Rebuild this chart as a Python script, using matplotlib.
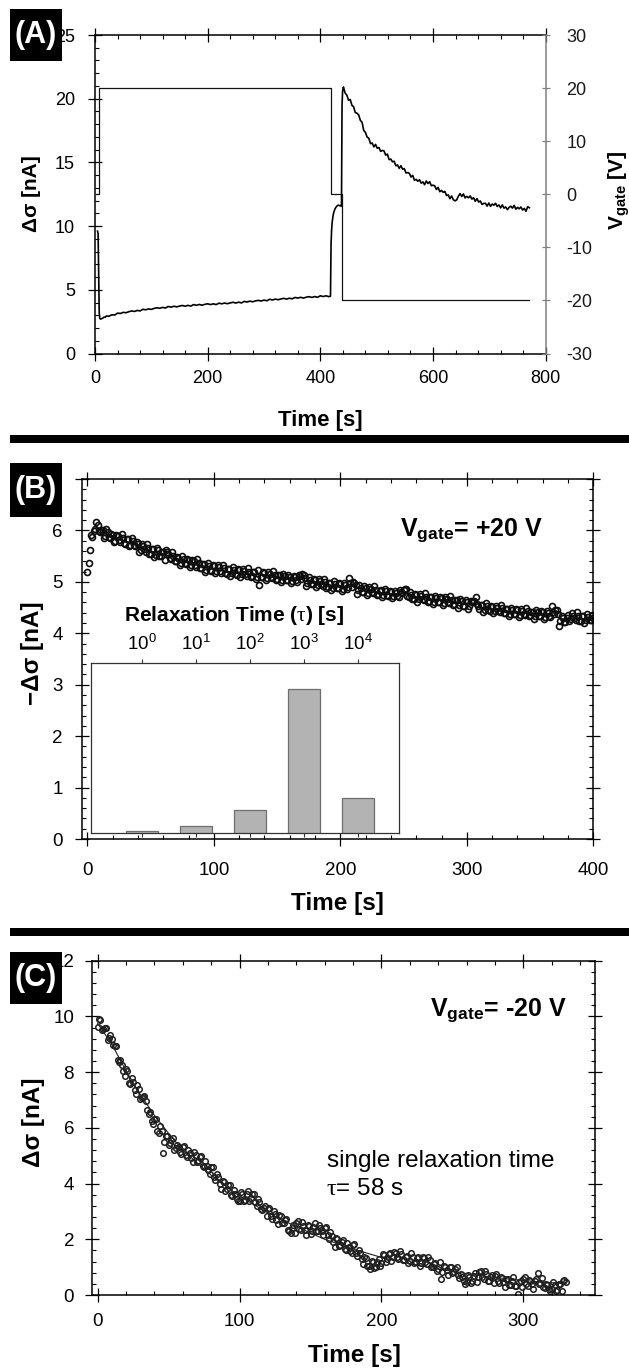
import numpy as np
import matplotlib
matplotlib.use("Agg")
import matplotlib.pyplot as plt
from matplotlib.patches import Rectangle
from matplotlib.ticker import (MultipleLocator, FixedLocator, FixedFormatter,
                               NullLocator, FuncFormatter)

plt.rcParams["font.family"] = ["Liberation Sans", "DejaVu Sans"]
plt.rcParams["axes.unicode_minus"] = False
plt.rcParams["mathtext.fontset"] = "custom"
plt.rcParams["mathtext.rm"] = "Liberation Sans"
plt.rcParams["mathtext.bf"] = "Liberation Sans:bold"
plt.rcParams["mathtext.it"] = "Liberation Serif:italic"
plt.rcParams["mathtext.sf"] = "Liberation Sans"
plt.rcParams["mathtext.tt"] = "Liberation Serif"

NARROW = ["Liberation Sans Narrow", "Liberation Sans"]

# ---------------- panel A: current response and gate voltage ----------------
a_start_t = [4.5, 5.5, 6.5, 7.5, 8.5, 10, 12, 14, 16, 18]
a_start_v = [9.6, 9.4, 6.0, 3.2, 2.75, 2.70, 2.74, 2.78, 2.86, 2.84]

a_slow_t = np.arange(20, 420, 5)
a_slow_v = [2.94, 2.93, 3.04, 3.02, 3.17, 3.14, 3.23, 3.20, 3.28, 3.34,
            3.30, 3.38, 3.34, 3.47, 3.43, 3.50, 3.46, 3.54, 3.59, 3.55,
            3.62, 3.57, 3.69, 3.64, 3.71, 3.66, 3.72, 3.77, 3.71, 3.78,
            3.72, 3.84, 3.78, 3.85, 3.79, 3.86, 3.90, 3.84, 3.90, 3.84,
            3.95, 3.90, 3.96, 3.91, 3.97, 4.02, 3.96, 4.03, 3.97, 4.09,
            4.04, 4.11, 4.06, 4.13, 4.17, 4.12, 4.19, 4.14, 4.26, 4.20,
            4.27, 4.22, 4.28, 4.33, 4.27, 4.34, 4.29, 4.40, 4.35, 4.41,
            4.35, 4.42, 4.46, 4.40, 4.47, 4.41, 4.53, 4.47, 4.53, 4.46]

a_jump_t = [418, 418.5, 419, 420, 421, 422.5, 424, 426, 428, 430, 432, 434,
            436, 437.5, 438, 438.5, 439.5, 440.5]
a_jump_v = [4.50, 6.5, 8.6, 9.7, 10.3, 10.8, 11.1, 11.35, 11.5, 11.6, 11.65,
            11.6, 11.62, 11.55, 15.0, 19.5, 20.6, 20.85]

a_decay_t = np.arange(441, 772, 3)
a_decay_v = [20.92, 20.44, 20.28, 19.88, 19.94, 19.49, 19.37, 18.91, 18.86, 18.73,
             18.30, 18.15, 17.51, 17.35, 16.99, 16.90, 16.47, 16.52, 16.22, 16.41,
             16.11, 16.17, 15.87, 15.94, 15.90, 15.57, 15.65, 15.22, 15.26, 15.05,
             15.09, 14.74, 14.80, 14.53, 14.74, 14.47, 14.51, 14.17, 14.20, 14.14,
             13.85, 13.98, 13.60, 13.67, 13.52, 13.64, 13.37, 13.47, 13.25, 13.54,
             13.34, 13.49, 13.17, 13.21, 13.16, 12.87, 13.04, 12.70, 12.80, 12.65,
             12.72, 12.40, 12.45, 12.15, 12.36, 12.07, 11.98, 12.06, 12.35, 12.55,
             12.33, 12.52, 12.21, 12.34, 12.22, 12.37, 12.12, 12.23, 11.95, 12.16,
             11.89, 11.97, 11.70, 11.78, 11.79, 11.57, 11.81, 11.55, 11.73, 11.64,
             11.79, 11.54, 11.66, 11.43, 11.66, 11.41, 11.50, 11.29, 11.47, 11.56,
             11.41, 11.63, 11.33, 11.47, 11.36, 11.50, 11.26, 11.39, 11.16, 11.52,
             11.44]

gate_t = [2, 6.5, 418.5, 438, 771]
gate_v = [0, 20, 0, -20, -20]

# ---------------- panel B: -delta sigma at +20 V, relaxation spectrum ----------------
b_t_even = np.arange(0, 401, 2)
b_v_even = [5.20, 5.62, 5.88, 6.02, 6.10, 5.96, 6.01, 5.90, 5.97, 5.86,
            5.92, 5.80, 5.89, 5.77, 5.85, 5.74, 5.83, 5.72, 5.80, 5.69,
            5.73, 5.62, 5.70, 5.58, 5.66, 5.55, 5.64, 5.52, 5.61, 5.50,
            5.58, 5.62, 5.55, 5.44, 5.50, 5.40, 5.47, 5.37, 5.45, 5.34,
            5.42, 5.33, 5.40, 5.29, 5.37, 5.27, 5.35, 5.24, 5.31, 5.22,
            5.30, 5.21, 5.28, 5.18, 5.26, 5.16, 5.25, 5.17, 5.24, 5.14,
            5.23, 5.15, 5.21, 5.12, 5.20, 5.11, 5.19, 5.10, 4.93, 5.09,
            5.17, 5.08, 5.16, 5.07, 5.14, 5.05, 5.13, 5.04, 5.11, 5.03,
            5.10, 5.01, 5.09, 5.00, 5.12, 5.15, 5.08, 4.97, 5.04, 4.96,
            5.03, 4.94, 5.01, 4.92, 4.99, 4.90, 4.98, 4.89, 4.96, 4.88,
            4.95, 4.86, 4.93, 4.90, 4.98, 5.00, 4.94, 4.84, 4.89, 4.81,
            4.88, 4.79, 4.87, 4.78, 4.85, 4.76, 4.84, 4.75, 4.82, 4.73,
            4.81, 4.72, 4.79, 4.71, 4.80, 4.84, 4.86, 4.70, 4.75, 4.66,
            4.74, 4.66, 4.73, 4.64, 4.71, 4.63, 4.70, 4.61, 4.69, 4.60,
            4.68, 4.59, 4.67, 4.58, 4.65, 4.57, 4.64, 4.55, 4.62, 4.54,
            4.61, 4.53, 4.60, 4.62, 4.57, 4.48, 4.55, 4.46, 4.53, 4.44,
            4.52, 4.43, 4.50, 4.41, 4.49, 4.40, 4.47, 4.38, 4.46, 4.37,
            4.45, 4.36, 4.44, 4.35, 4.43, 4.35, 4.42, 4.34, 4.41, 4.33,
            4.41, 4.32, 4.40, 4.31, 4.42, 4.45, 4.38, 4.24, 4.29, 4.21,
            4.35, 4.27, 4.34, 4.25, 4.33, 4.24, 4.33, 4.26, 4.32, 4.25,
            4.30]
b_t_odd = np.arange(1, 400, 2)
b_v_odd = [5.36, 5.92, 5.98, 6.17, 5.98, 6.01, 5.86, 6.02, 5.87, 5.94,
           5.78, 5.92, 5.82, 5.93, 5.75, 5.83, 5.69, 5.85, 5.71, 5.77,
           5.59, 5.73, 5.63, 5.73, 5.55, 5.63, 5.48, 5.65, 5.51, 5.59,
           5.43, 5.58, 5.47, 5.58, 5.40, 5.48, 5.33, 5.50, 5.36, 5.45,
           5.29, 5.43, 5.33, 5.44, 5.27, 5.34, 5.20, 5.37, 5.24, 5.33,
           5.17, 5.32, 5.22, 5.33, 5.17, 5.25, 5.11, 5.29, 5.16, 5.25,
           5.10, 5.25, 5.16, 5.27, 5.10, 5.19, 5.05, 5.23, 5.10, 5.19,
           5.04, 5.19, 5.10, 5.21, 5.04, 5.13, 4.99, 5.16, 5.03, 5.13,
           4.97, 5.12, 5.03, 5.14, 5.05, 5.14, 4.92, 5.09, 4.96, 5.06,
           4.90, 5.05, 4.95, 5.06, 4.89, 4.98, 4.84, 5.01, 4.88, 4.98,
           4.82, 4.97, 4.87, 5.07, 4.90, 4.98, 4.77, 4.94, 4.81, 4.91,
           4.75, 4.90, 4.81, 4.92, 4.75, 4.83, 4.70, 4.87, 4.74, 4.83,
           4.68, 4.83, 4.73, 4.85, 4.78, 4.86, 4.72, 4.80, 4.67, 4.76,
           4.61, 4.76, 4.67, 4.78, 4.61, 4.70, 4.56, 4.73, 4.61, 4.70,
           4.55, 4.70, 4.60, 4.72, 4.55, 4.64, 4.50, 4.67, 4.54, 4.64,
           4.48, 4.63, 4.60, 4.71, 4.54, 4.55, 4.41, 4.58, 4.45, 4.54,
           4.39, 4.54, 4.44, 4.55, 4.39, 4.47, 4.33, 4.50, 4.38, 4.47,
           4.32, 4.47, 4.38, 4.49, 4.33, 4.42, 4.28, 4.46, 4.33, 4.43,
           4.28, 4.43, 4.34, 4.53, 4.37, 4.45, 4.15, 4.33, 4.21, 4.30,
           4.23, 4.39, 4.29, 4.41, 4.24, 4.33, 4.20, 4.37, 4.25, 4.35]

tau_exp = [0, 1, 2, 3, 4]
tau_amp = [0.16, 0.25, 0.56, 2.91, 0.79]

# ---------------- panel C: delta sigma at -20 V with fit ----------------
c_t_even = np.arange(0, 331, 2)
c_v_even = [9.62, 9.88, 9.55, 9.60, 9.22, 9.20, 8.95, 8.45, 8.42, 8.05,
            8.10, 7.62, 7.78, 7.35, 7.55, 7.05, 7.12, 6.95, 6.48, 6.25,
            6.32, 5.88, 6.05, 5.10, 5.70, 5.38, 5.55, 5.22, 5.40, 5.15,
            5.32, 5.02, 5.20, 4.90, 5.12, 4.78, 4.95, 4.64, 4.80, 4.48,
            4.60, 4.25, 4.35, 3.98, 4.10, 3.75, 3.95, 3.60, 3.78, 3.45,
            3.38, 3.62, 3.40, 3.72, 3.48, 3.62, 3.20, 3.35, 3.05, 3.20,
            3.10, 2.82, 3.00, 2.70, 2.88, 2.58, 2.70, 2.35, 2.22, 2.50,
            2.58, 2.38, 2.62, 2.32, 2.50, 2.20, 2.45, 2.28, 2.52, 2.30,
            2.42, 2.15, 2.25, 1.90, 2.05, 1.75, 1.92, 1.66, 1.85, 1.58,
            1.78, 1.52, 1.62, 1.30, 1.35, 1.05, 0.92, 1.18, 1.02, 1.30,
            1.15, 1.45, 1.28, 1.52, 1.35, 1.50, 1.30, 1.46, 1.25, 1.40,
            1.22, 1.38, 1.18, 1.35, 1.16, 1.32, 1.12, 1.25, 1.02, 1.14,
            0.92, 0.57, 1.05, 0.88, 1.00, 0.80, 0.92, 0.70, 0.76, 0.52,
            0.45, 0.64, 0.52, 0.78, 0.64, 0.86, 0.58, 0.75, 0.52, 0.70,
            0.68, 0.50, 0.65, 0.45, 0.58, 0.36, 0.50, 0.34, 0.02, 0.52,
            0.58, 0.40, 0.55, 0.38, 0.52, 0.78, 0.42, 0.30, 0.38, 0.22,
            0.20, 0.35, 0.18, 0.38, 0.52, 0.45]
c_t_odd = np.arange(1, 330, 2)
c_v_odd = [9.90, 9.53, 9.59, 9.16, 9.33, 8.96, 8.95, 8.36, 8.27, 7.87,
           8.05, 7.58, 7.64, 7.21, 7.41, 7.07, 7.14, 6.63, 6.56, 6.13,
           6.31, 5.83, 5.89, 5.48, 5.72, 5.47, 5.65, 5.27, 5.33, 5.05,
           5.34, 4.95, 5.10, 4.76, 5.04, 4.81, 4.98, 4.58, 4.64, 4.34,
           4.59, 4.14, 4.22, 3.82, 4.05, 3.79, 3.96, 3.57, 3.64, 3.37,
           3.69, 3.38, 3.64, 3.36, 3.62, 3.33, 3.46, 3.07, 3.14, 2.85,
           3.13, 2.74, 2.89, 2.55, 2.83, 2.58, 2.72, 2.28, 2.40, 2.24,
           2.65, 2.33, 2.49, 2.16, 2.47, 2.29, 2.58, 2.29, 2.42, 2.16,
           2.43, 2.00, 2.11, 1.74, 2.01, 1.78, 1.98, 1.62, 1.73, 1.50,
           1.82, 1.40, 1.50, 1.10, 1.32, 1.03, 1.23, 0.98, 1.20, 1.05,
           1.47, 1.20, 1.46, 1.21, 1.55, 1.37, 1.59, 1.24, 1.35, 1.14,
           1.49, 1.14, 1.34, 1.05, 1.38, 1.18, 1.38, 1.01, 1.10, 0.85,
           1.18, 0.82, 1.00, 0.70, 1.02, 0.82, 1.01, 0.61, 0.66, 0.39,
           0.73, 0.43, 0.69, 0.47, 0.84, 0.65, 0.87, 0.52, 0.64, 0.43,
           0.77, 0.42, 0.60, 0.28, 0.57, 0.37, 0.63, 0.32, 0.47, 0.29,
           0.66, 0.32, 0.52, 0.23, 0.56, 0.38, 0.60, 0.25, 0.36, 0.13,
           0.48, 0.16, 0.40, 0.16, 0.53]

c_fit_t = [0, 10, 20, 30, 40, 50, 60, 80, 100, 120, 140, 160, 180, 200,
           220, 240, 260, 280, 300, 330]
c_fit_v = [9.75, 9.0, 8.05, 7.2, 6.45, 5.8, 5.2, 4.3, 3.55, 2.95, 2.45, 2.0,
           1.65, 1.35, 1.12, 0.93, 0.77, 0.63, 0.52, 0.4]

# ---------------- layout helpers (figure pixels) ----------------
W, H = 629, 1368
fig = plt.figure(figsize=(W / 100, H / 100), dpi=100)
fig.patch.set_facecolor("white")


def box(left, top, right, bottom):
    return [left / W, 1 - bottom / H, (right - left) / W, (bottom - top) / H]


def fx(x):
    return x / W


def fy(y):
    return 1 - y / H


def frame(ax, xmaj, xmin, ymaj, ymin, size, xpad, ypad, family=None, lw=1.1):
    ax.xaxis.set_major_locator(MultipleLocator(xmaj))
    ax.xaxis.set_minor_locator(MultipleLocator(xmin))
    ax.yaxis.set_major_locator(MultipleLocator(ymaj))
    ax.yaxis.set_minor_locator(MultipleLocator(ymin))
    ax.tick_params(which="major", direction="inout", length=9.4, width=0.9,
                   top=True, right=True, labelsize=size, colors="black")
    ax.tick_params(which="minor", direction="in", length=3.2, width=0.8,
                   top=True, right=True)
    ax.tick_params(axis="x", which="major", pad=xpad)
    ax.tick_params(axis="y", which="major", pad=ypad)
    if family is not None:
        ax.tick_params(labelfontfamily=family)
    for s in ax.spines.values():
        s.set_linewidth(lw)


def upto(limit):
    # integer tick labels, leaving the topmost tick (under the panel tag) blank
    return FuncFormatter(lambda v, p: "" if v > limit + 1e-9 else "%g" % v)


# ---------------- panel A ----------------
axA = fig.add_axes(box(95, 35, 545.7, 353.5))
cur_t = np.concatenate([a_start_t, a_slow_t, a_jump_t, a_decay_t])
cur_v = np.concatenate([a_start_v, a_slow_v, a_jump_v, a_decay_v])
axA.plot(cur_t, cur_v, color="black", lw=1.2, zorder=3)
axA.set_xlim(0, 800)
axA.set_ylim(0, 25)
frame(axA, 200, 40, 5, 1, 13, 7.3, 9.7, family=NARROW)
axA.tick_params(which="both", right=False)
axA.spines["right"].set_visible(False)
axA.set_xlabel("Time [s]", fontsize=16, fontweight="bold", family=NARROW)
axA.xaxis.set_label_coords(0.5, -0.2088)
axA.xaxis.label.set_va("center")
axA.set_ylabel("Δσ [nA]", fontsize=15, fontweight="bold")
axA.yaxis.set_label_coords(-0.1398, 0.503)
axA.yaxis.label.set_va("center")

axA2 = axA.twinx()
axA2.step(gate_t, gate_v, where="post", color="#111111", lw=0.9)
axA2.set_ylim(-30, 30)
axA2.yaxis.set_major_locator(MultipleLocator(10))
axA2.yaxis.set_minor_locator(NullLocator())
for s in ("left", "top", "bottom"):
    axA2.spines[s].set_visible(False)
axA2.spines["right"].set_color("#808080")
axA2.spines["right"].set_linewidth(1.1)
axA2.tick_params(axis="y", direction="inout", length=6, width=0.9, color="#808080",
                 labelcolor="#1a1a1a", labelsize=13, pad=12, labelfontfamily=NARROW)
axA2.set_ylabel(r"$\mathbf{V}_{\mathbf{gate}}$ [V]", fontsize=15, fontweight="bold",
                rotation=90)
axA2.yaxis.set_label_coords(1.1627, 0.5108)
axA2.yaxis.label.set_va("center")

# ---------------- panel B ----------------
axB = fig.add_axes(box(81.7, 479, 593.3, 839))
b_t = np.concatenate([b_t_even, b_t_odd])
b_v = np.concatenate([b_v_even, b_v_odd])
axB.plot(b_t, b_v, ls="none", marker="o", ms=4.3, mfc="none", mec="#0d0d0d", mew=1.2)
axB.set_xlim(-4.5, 400)
axB.set_ylim(0, 7)
frame(axB, 100, 20, 1, 0.2, 13.5, 11.8, 9)
axB.yaxis.set_major_formatter(upto(6))
axB.set_xlabel("Time [s]", fontsize=17.5, fontweight="bold")
axB.xaxis.set_label_coords(0.5, -0.1778)
axB.xaxis.label.set_va("center")
axB.set_ylabel("−Δσ [nA]", fontsize=17.5, fontweight="bold")
axB.yaxis.set_label_coords(-0.0962, 0.5158)
axB.yaxis.label.set_va("center")

fig.text(fx(400), fy(536.7), r"$\mathbf{V}_{\mathbf{gate}}$= +20 V", fontsize=18,
         fontweight="bold", ha="left", va="baseline")

# relaxation-time spectrum inset
axI = fig.add_axes(box(90.7, 663.3, 399.3, 833.3))
taus = 10.0 ** np.array(tau_exp, dtype=float)
half = 10.0 ** 0.3
axI.bar(taus / half, tau_amp, width=taus * half - taus / half, bottom=0,
        align="edge", color="#b3b3b3", edgecolor="#6e6e6e", lw=0.9)
axI.set_xscale("log")
axI.set_xlim(10 ** -0.955, 10 ** 4.76)
axI.set_ylim(0.11, 3.41)
axI.xaxis.set_major_locator(FixedLocator(taus))
axI.xaxis.set_major_formatter(FixedFormatter([r"$\mathregular{10^{%d}}$" % e for e in tau_exp]))
axI.xaxis.set_minor_locator(NullLocator())
axI.tick_params(axis="x", which="major", direction="out", length=3, width=0.8,
                top=True, bottom=True, labeltop=True, labelbottom=False,
                labelsize=13.5, pad=4, color="#333333")
axI.set_yticks([])
for s in axI.spines.values():
    s.set_color("#333333")
    s.set_linewidth(0.9)
fig.text(fx(234.7), fy(615.8), r"Relaxation Time ($\mathtt{\tau}$) [s]", fontsize=15,
         fontweight="bold", ha="center", va="center")

# ---------------- panel C ----------------
axC = fig.add_axes(box(91.7, 960.7, 595, 1295))
c_t = np.concatenate([c_t_even, c_t_odd])
c_v = np.concatenate([c_v_even, c_v_odd])
axC.plot(c_t, c_v, ls="none", marker="o", ms=4.0, mfc="none", mec="#1f1f1f", mew=1.1)
axC.plot(c_fit_t, c_fit_v, color="#222222", lw=0.8)
axC.set_xlim(-4.2, 350.5)
axC.set_ylim(0, 12)
frame(axC, 100, 20, 2, 0.4, 13.5, 8.5, 8)
axC.set_xlabel("Time [s]", fontsize=17.5, fontweight="bold")
axC.xaxis.set_label_coords(0.523, -0.1795)
axC.xaxis.label.set_va("center")
axC.set_ylabel("Δσ [nA]", fontsize=17.5, fontweight="bold")
axC.yaxis.set_label_coords(-0.1166, 0.516)
axC.yaxis.label.set_va("center")

fig.text(fx(430), fy(1016.7), r"$\mathbf{V}_{\mathbf{gate}}$= -20 V", fontsize=18,
         fontweight="bold", ha="left", va="baseline")
fig.text(fx(326.7), fy(1166.7), "single relaxation time", fontsize=17.5,
         ha="left", va="baseline")
fig.text(fx(326), fy(1195), r"$\mathtt{\tau}$= 58 s", fontsize=17.5,
         ha="left", va="baseline")

# ---------------- separators and panel tags ----------------
for top, bottom in ((435, 443), (928, 936)):
    fig.patches.append(Rectangle((fx(10), fy(bottom)), fx(629) - fx(10),
                                 (bottom - top) / H, transform=fig.transFigure,
                                 facecolor="black", edgecolor="none", zorder=5))

for tag, top, bottom in (("(A)", 9, 61), ("(B)", 463, 517), ("(C)", 952, 1004)):
    fig.patches.append(Rectangle((fx(10), fy(bottom)), fx(62) - fx(10),
                                 (bottom - top) / H, transform=fig.transFigure,
                                 facecolor="black", edgecolor="none", zorder=5))
    fig.text(fx(36), fy((top + bottom) / 2), tag, color="white", fontsize=22,
             fontweight="bold", ha="center", va="center", zorder=6)

fig.savefig("out.png", dpi=100, facecolor="white")
